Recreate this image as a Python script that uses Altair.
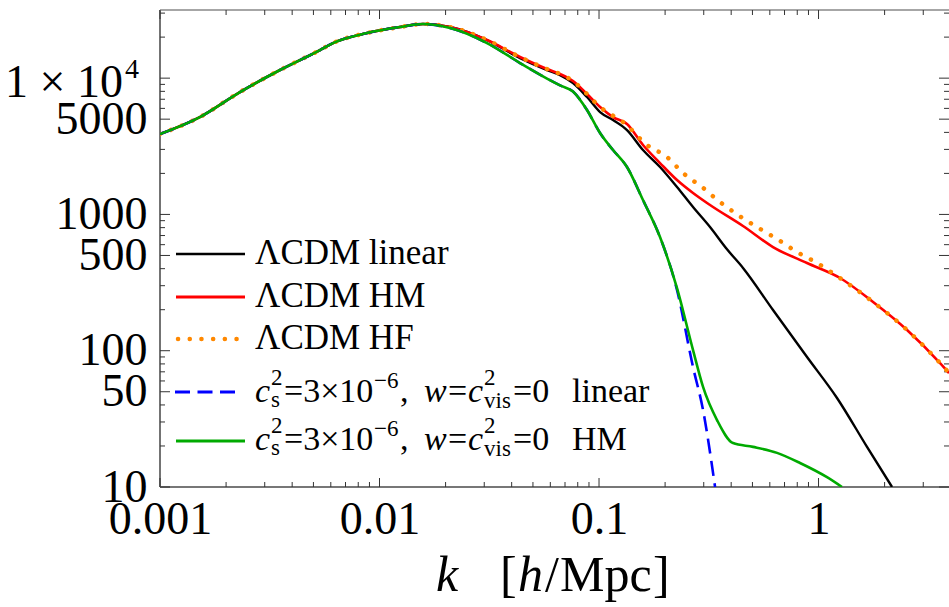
import altair as alt
import pandas as pd

SERIF = "Liberation Serif"
L, T = 160, 10          # plot-area offset inside the page
W, H = 789, 477         # plot-area size

# ---------------- data ----------------
K_LOW = [0.001, 0.00152, 0.002314, 0.003521, 0.005357, 0.00614, 0.00877, 0.0124, 0.01578]
P_LOW = [3890, 5183, 7907, 11470, 16070, 18090, 21420, 23710, 24950]

K_LIN = [0.02096, 0.03088, 0.04366, 0.05796, 0.06645, 0.07612, 0.08817, 0.1011, 0.1158,
         0.1341, 0.1586, 0.1896, 0.2266, 0.2681, 0.3204, 0.3829, 0.4529, 0.6204, 0.8864,
         1.214, 1.663, 2.162]
P_LIN = [23710, 19030, 14040, 11470, 10530, 9200, 7265, 5640, 4927,
         4161, 2968, 2227, 1589, 1133, 808, 555, 405, 198.9, 89.9,
         45.0, 19.7, 10]

K_HM = [0.02096, 0.03088, 0.04366, 0.05796, 0.06645, 0.07612, 0.08817, 0.1011, 0.1158,
        0.1341, 0.1586, 0.1896, 0.2266, 0.2681, 0.3204, 0.4529, 0.6204, 0.8864, 1.253,
        1.772, 2.531, 3.578, 3.932]
P_HM = [23710, 19030, 14285, 11660, 10720, 9520, 7644, 6138, 5183,
        4605, 3230, 2383, 1788, 1436, 1172, 822, 576.6, 440, 341.6,
        227.7, 141.9, 81.2, 68.6]

K_HF = [0.02096, 0.03088, 0.04366, 0.05796, 0.06645, 0.07612, 0.08817, 0.1011, 0.1158,
        0.1286, 0.1655, 0.2040, 0.2414, 0.2945, 0.3558, 0.4299, 0.5246, 0.6471, 0.7980,
        0.9844, 1.214, 1.772, 2.531, 3.578, 3.932]
P_HF = [23710, 19030, 14285, 11660, 10720, 9520, 7644, 6138, 5300,
        4764, 3230, 2637, 2013, 1589, 1233, 990, 808, 660, 530,
        440, 353, 227.7, 141.9, 81.2, 68.6]

K_CL = [0.02096, 0.03088, 0.04366, 0.05796, 0.06645, 0.07612, 0.08817, 0.1011, 0.1158,
        0.1341, 0.1586, 0.1896, 0.2266, 0.2681, 0.2978, 0.3378]
P_CL = [23330, 18090, 12910, 9930, 8850, 7976, 5834, 3955, 2968,
        2227, 1275, 682, 279, 75.9, 36.7, 10]

K_CH = [0.02096, 0.03088, 0.04366, 0.05796, 0.06645, 0.07612, 0.08817, 0.1011, 0.1158,
        0.1341, 0.1586, 0.1896, 0.2266, 0.2681, 0.2978, 0.3448, 0.4077, 0.5031, 0.6471,
        0.8236, 1.093, 1.279]
P_CH = [23330, 18090, 12910, 9930, 8850, 7976, 5834, 3955, 2968,
        2227, 1275, 682, 288, 101, 54.2, 31.0, 21.0, 19.7, 17.8,
        15.0, 11.8, 10]

X_LABELS = [0.001, 0.01, 0.1, 1]
Y_LABELS = [10, 50, 100, 500, 1000, 5000]
X_MAJOR = [0.001, 0.01, 0.1, 1]
X_MINOR = [m * d for d in (0.001, 0.01, 0.1) for m in range(2, 10)] + [2, 3]
Y_MAJOR = [10, 50, 100, 500, 1000, 5000, 10000]
Y_MINOR = [m * d for d in (10, 100, 1000) for m in (2, 3, 4, 6, 7, 8, 9)] + [20000, 30000]

# ---------------- scales / axes ----------------
xs = alt.Scale(type="log", domain=[0.001, 3.93], nice=False)
ys = alt.Scale(type="log", domain=[10, 31623], nice=False)
xax = alt.Axis(values=X_LABELS, format="~g", ticks=False, tickSize=0, domain=False, grid=False,
               labelFont=SERIF, labelFontSize=46, labelColor="black", labelPadding=10,
               labelOverlap=False, labelFlush=False, title=None)
yax = alt.Axis(values=Y_LABELS, format="d", ticks=False, tickSize=0, domain=False, grid=False,
               labelFont=SERIF, labelFontSize=46, labelColor="black", labelPadding=13,
               labelOverlap=False, labelFlush=False, title=None)
X = alt.X("k:Q", scale=xs, axis=xax)
Y = alt.Y("P:Q", scale=ys, axis=yax)

one = pd.DataFrame({"a": [0]})


def series(ks, ps):
    return pd.DataFrame({"k": K_LOW + ks, "P": P_LOW + ps})


def line(df, color, width, dash=None, cap="butt"):
    kw = dict(color=color, strokeWidth=width, clip=True, interpolate="monotone", strokeCap=cap)
    if dash:
        kw["strokeDash"] = dash
    return alt.Chart(df).mark_line(**kw).encode(x=X, y=Y)


layers = []

# frame
layers.append(alt.Chart(one).mark_rule(color="#444", strokeWidth=1.5).encode(
    x=alt.value(0), y=alt.value(0), y2=alt.value(H)))
layers.append(alt.Chart(one).mark_rule(color="#888", strokeWidth=1.5).encode(
    x=alt.value(0), x2=alt.value(W), y=alt.value(0)))
layers.append(alt.Chart(one).mark_rule(color="#777", strokeWidth=2).encode(
    x=alt.value(0), x2=alt.value(W), y=alt.value(H)))

# ticks (inward, on all four sides)
xmaj = pd.DataFrame({"k": X_MAJOR})
xmin = pd.DataFrame({"k": X_MINOR})
ymaj = pd.DataFrame({"P": Y_MAJOR})
ymin = pd.DataFrame({"P": Y_MINOR})
TC = "#333"
for df, ln in ((xmaj, 9), (xmin, 5)):
    layers.append(alt.Chart(df).mark_rule(color=TC, strokeWidth=1).encode(
        x=X, y=alt.value(H), y2=alt.value(H - ln)))
    layers.append(alt.Chart(df).mark_rule(color=TC, strokeWidth=1).encode(
        x=X, y=alt.value(0), y2=alt.value(ln)))
for df, ln in ((ymaj, 10), (ymin, 5)):
    layers.append(alt.Chart(df).mark_rule(color=TC, strokeWidth=1).encode(
        y=Y, x=alt.value(0), x2=alt.value(ln)))
    layers.append(alt.Chart(df).mark_rule(color=TC, strokeWidth=1).encode(
        y=Y, x=alt.value(W), x2=alt.value(W - ln)))

# curves
layers.append(line(series(K_LIN, P_LIN), "black", 2.4))
layers.append(line(series(K_HM, P_HM), "#ff0000", 2.6))
layers.append(line(series(K_HF, P_HF), "#ff8800", 4.5, dash=[0.1, 11.6], cap="round"))
layers.append(line(series(K_CL, P_CL), "#0000ff", 2.6, dash=[15, 7.5]))
layers.append(line(series(K_CH, P_CH), "#00aa00", 2.6))


# text helper (absolute page coordinates)
def piece(s, xa, ya, size, italic=False, align="left"):
    return alt.Chart(one).mark_text(
        text=s, font=SERIF, fontSize=size, fontStyle="italic" if italic else "normal",
        align=align, baseline="alphabetic", color="black").encode(
        x=alt.value(xa - L), y=alt.value(ya - T))


# 1 x 10^4 label
layers.append(alt.Chart(one).mark_text(text="1 × 10", font=SERIF, fontSize=46, align="right",
                                       baseline="alphabetic", color="black", dy=19).encode(
    x=alt.value(123 - L), y=alt.YDatum(10000, scale=ys, axis=yax)))
layers.append(alt.Chart(one).mark_text(text="4", font=SERIF, fontSize=28, align="left",
                                       baseline="alphabetic", color="black", dy=0).encode(
    x=alt.value(125 - L), y=alt.YDatum(10000, scale=ys, axis=yax)))

# x-axis title
for s, xa, it in (("k", 436, True), ("[", 500, False), ("h", 518, True), ("/", 545, False),
                  ("Mpc", 560, False), ("]", 653, False)):
    layers.append(piece(s, xa, 591, 50, italic=it))


# legend samples
def sample(ya, color, width, dash=None, cap="butt", x0=176, x1=245):
    kw = dict(color=color, strokeWidth=width, strokeCap=cap)
    if dash:
        kw["strokeDash"] = dash
    return alt.Chart(one).mark_rule(**kw).encode(
        x=alt.value(x0 - L), x2=alt.value(x1 - L), y=alt.value(ya - T))


layers.append(sample(254, "black", 2.6))
layers.append(sample(297, "#ff0000", 3))
layers.append(sample(339, "#ff8800", 4.5, dash=[0.1, 11.6], cap="round", x0=178, x1=240))
layers.append(sample(392, "#0000ff", 3, dash=[15, 7.5], x0=175, x1=240))
layers.append(sample(441, "#00aa00", 3))

LS = 34
SS = 23
for base, text in ((264, "ΛCDM linear"), (307, "ΛCDM HM"), (349, "ΛCDM HF")):
    layers.append(piece(text, 255, base, 35))

for base, word in ((402, "linear"), (450, "HM")):
    layers += [
        piece("c", 255, base, LS, italic=True),
        piece("2", 271, base - 17, SS),
        piece("s", 271, base + 5, SS),
        piece("=3×10", 284, base, LS),
        piece("−6", 374, base - 14, SS),
        piece(",", 400, base, LS),
        piece("w", 424, base, LS, italic=True),
        piece("=", 448, base, LS),
        piece("c", 468, base, LS, italic=True),
        piece("2", 484, base - 17, SS),
        piece("vis", 484, base + 6, SS),
        piece("=0", 513, base, LS),
        piece(word, 572, base, LS),
    ]

chart = alt.layer(*layers).properties(
    width=W, height=H,
    autosize=alt.AutoSizeParams(type="none"),
    padding={"left": L, "top": T, "right": 0, "bottom": 607 - T - H},
).configure_view(stroke="transparent")

chart.save("out.html", embed_options={"renderer": "svg", "actions": False})
